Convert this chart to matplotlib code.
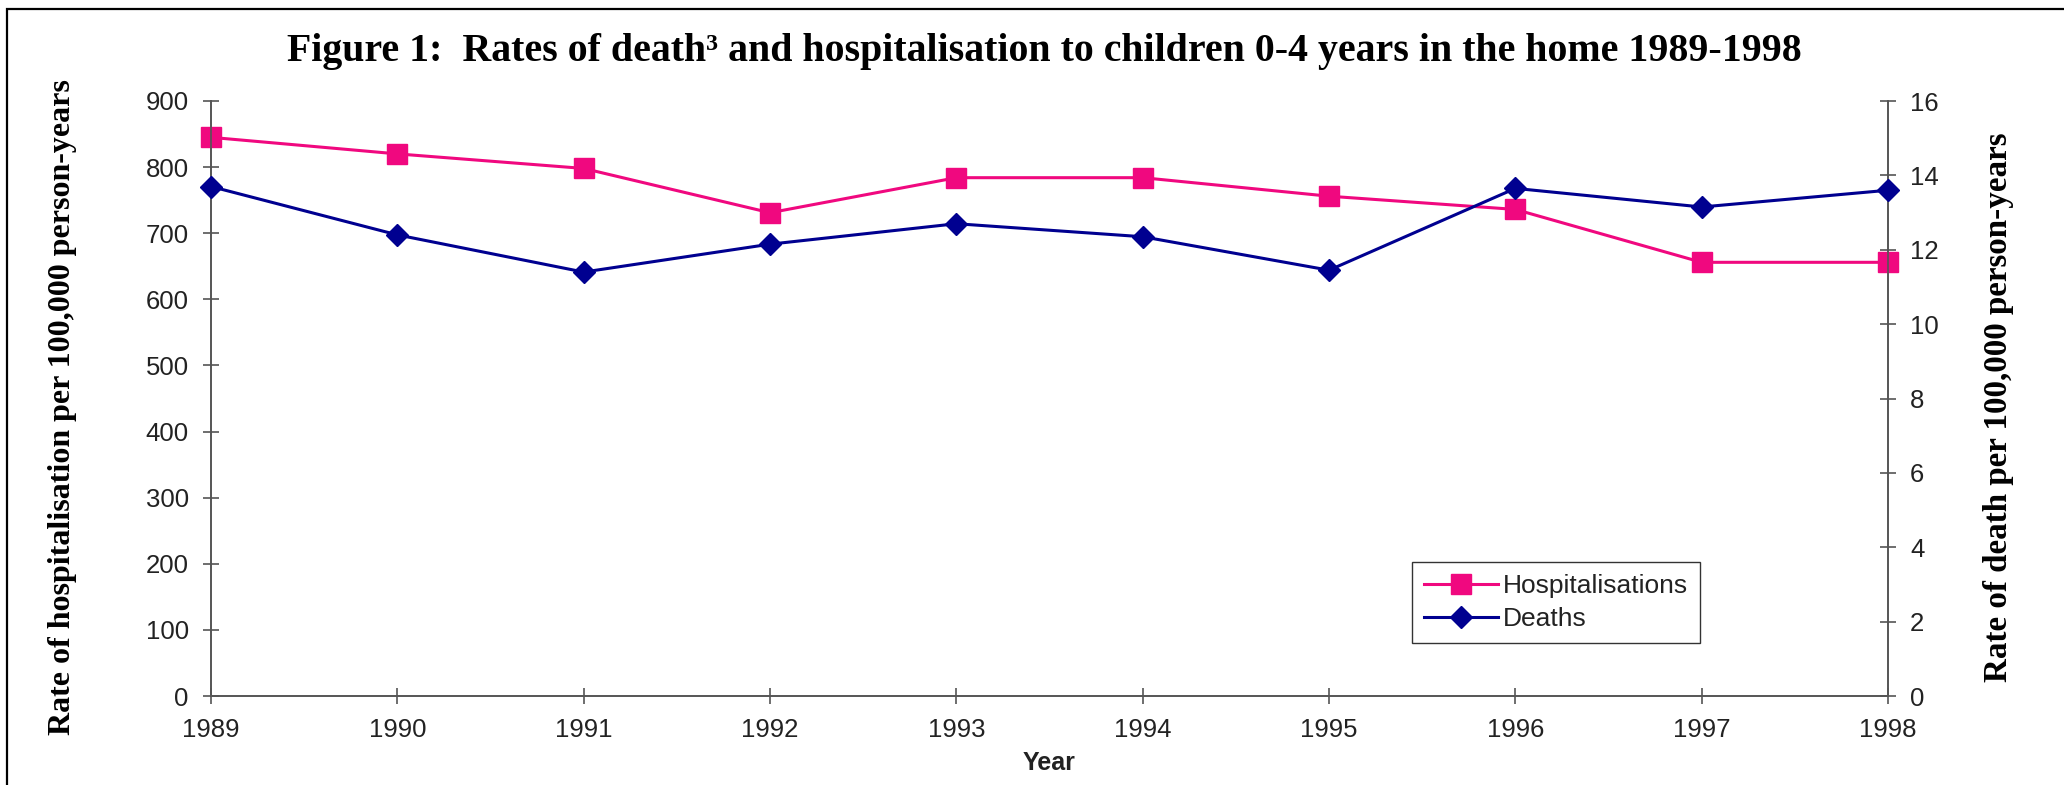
import matplotlib
matplotlib.use('Agg')
import matplotlib.pyplot as plt
from matplotlib.patches import Rectangle

# yearly rates, children 0-4 years, injuries in the home
years = [1989, 1990, 1991, 1992, 1993, 1994, 1995, 1996, 1997, 1998]
hospitalisations = [845, 820, 798, 731, 784, 784, 756, 736, 656, 656]
deaths = [13.7, 12.4, 11.4, 12.15, 12.7, 12.35, 11.45, 13.65, 13.15, 13.6]

left_ticks = list(range(0, 901, 100))
right_ticks = list(range(0, 17, 2))

pink = '#F0087F'
navy = '#000090'
axis_grey = '#555555'
sans = 'Liberation Sans'
serif = 'Liberation Serif'

fig = plt.figure(figsize=(20.64, 7.85), dpi=100)
fig.patch.set_facecolor('white')

# outer frame of the figure (runs off the right and bottom edges)
fig.patches.append(Rectangle((7 / 2064, -0.05), 1.2, 1 - 9 / 785 + 0.05,
                             transform=fig.transFigure, fill=False,
                             edgecolor='black', linewidth=1.6))

ax = fig.add_axes([211 / 2064, 1 - 696 / 785, (1888 - 211) / 2064, (696 - 101) / 785])
ax2 = ax.twinx()

h_line, = ax.plot(years, hospitalisations, color=pink, lw=2.2, marker='s',
                  markersize=14.5, markeredgecolor=pink, clip_on=False, zorder=3)
d_line, = ax2.plot(years, deaths, color=navy, lw=2.2, marker='D',
                   markersize=11.5, markeredgecolor=navy, clip_on=False, zorder=3)

ax.set_xlim(1989, 1998)
ax.set_ylim(0, 900)
ax2.set_ylim(0, 16)
ax.set_xticks(years)
ax.set_yticks(left_ticks)
ax2.set_yticks(right_ticks)

for a in (ax, ax2):
    a.spines['top'].set_visible(False)
    for s in ('left', 'right', 'bottom'):
        a.spines[s].set_color(axis_grey)
        a.spines[s].set_linewidth(1.2)
    a.tick_params(direction='inout', length=12, width=1.2, color=axis_grey,
                  pad=10, labelsize=18.5, labelcolor='#222222')
    for lab in a.get_xticklabels() + a.get_yticklabels():
        lab.set_fontfamily(sans)
ax.patch.set_visible(False)

fig.text(1049 / 2064, 1 - 763 / 785, 'Year', ha='center', va='center',
         fontsize=18, fontweight='bold', family=sans, color='#222222')

fig.text(1044 / 2064, 1 - 52 / 785,
         'Figure 1:  Rates of death\u00b3 and hospitalisation to children 0-4 years in the home 1989-1998',
         ha='center', va='center', fontsize=28.7, fontweight='bold', family=serif)

fig.text(63 / 2064, 1 - 407 / 785, 'Rate of hospitalisation per 100,000 person-years',
         rotation=90, ha='center', va='center', fontsize=23, fontweight='bold', family=serif)
fig.text(1998 / 2064, 1 - 407 / 785, 'Rate of death per 100,000 person-years',
         rotation=90, ha='center', va='center', fontsize=23.8, fontweight='bold', family=serif)

leg = fig.legend([h_line, d_line], ['Hospitalisations', 'Deaths'],
                 loc='upper left', bbox_to_anchor=(1412 / 2064, 1 - 562 / 785),
                 bbox_transform=fig.transFigure, borderaxespad=0,
                 prop={'family': sans, 'size': 19}, frameon=True, fancybox=False,
                 edgecolor='black', handlelength=2.8, handletextpad=0.2,
                 labelspacing=0.35, borderpad=0.45)
leg.get_frame().set_linewidth(1.0)
for t in leg.get_texts():
    t.set_color('#222222')

fig.savefig('out.png', dpi=100, facecolor='white')
